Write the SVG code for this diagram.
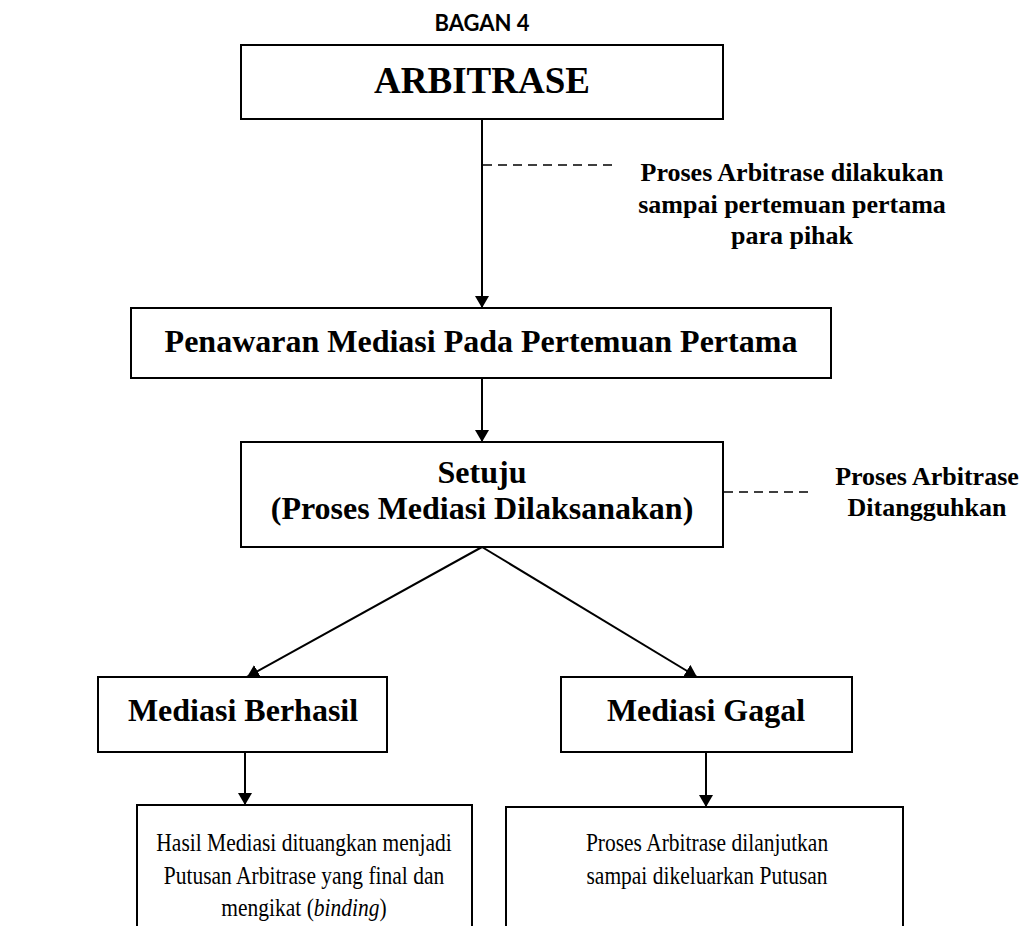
<svg xmlns="http://www.w3.org/2000/svg" width="1022" height="926" viewBox="0 0 1022 926">
<defs>
<marker id="ah" markerWidth="12" markerHeight="14" refX="12" refY="7" orient="auto" markerUnits="userSpaceOnUse">
<path d="M0,0 L12,7 L0,14 Z" fill="#000"/>
</marker>
<style>
.box{fill:#fff;stroke:#000;stroke-width:2}
.ln{stroke:#000;stroke-width:2;fill:none}
.dash{stroke:#000;stroke-width:1.5;stroke-dasharray:9 6;fill:none}
.t{font-family:"Liberation Serif","Times New Roman",serif;fill:#000;text-anchor:middle}
.b{font-weight:bold}
</style>
</defs>
<rect width="1022" height="926" fill="#fff"/>
<text x="482" y="31" text-anchor="middle" style="font-family:'Lato','Liberation Sans',sans-serif;font-weight:bold;font-size:22px">BAGAN 4</text>

<g id="connectors">
<line class="ln" x1="482" y1="119" x2="482" y2="308" marker-end="url(#ah)"/>
<line class="ln" x1="482" y1="378" x2="482" y2="442" marker-end="url(#ah)"/>
<line class="ln" x1="482" y1="547" x2="247" y2="677" marker-end="url(#ah)"/>
<line class="ln" x1="482" y1="547" x2="697" y2="677" marker-end="url(#ah)"/>
<line class="ln" x1="245" y1="752" x2="245" y2="805" marker-end="url(#ah)"/>
<line class="ln" x1="706" y1="752" x2="706" y2="807" marker-end="url(#ah)"/>
<line class="dash" x1="483" y1="165" x2="617" y2="165"/>
<line class="dash" x1="724" y1="492" x2="812" y2="492"/>
</g>

<g id="n-arbitrase">
<rect class="box" x="241" y="45" width="482" height="74"/>
<text class="t b" x="482" y="93" font-size="37">ARBITRASE</text>
</g>

<g id="n-note1">
<text class="t b" x="792" y="181" font-size="26">Proses Arbitrase dilakukan</text>
<text class="t b" x="792" y="213" font-size="26">sampai pertemuan pertama</text>
<text class="t b" x="792" y="244" font-size="26">para pihak</text>
</g>

<g id="n-penawaran">
<rect class="box" x="131" y="308" width="700" height="70"/>
<text class="t b" x="481" y="352" font-size="32">Penawaran Mediasi Pada Pertemuan Pertama</text>
</g>

<g id="n-setuju">
<rect class="box" x="241" y="442" width="482" height="105"/>
<text class="t b" x="482" y="483" font-size="32">Setuju</text>
<text class="t b" x="482" y="519" font-size="32">(Proses Mediasi Dilaksanakan)</text>
</g>

<g id="n-note2">
<text class="t b" x="927" y="485" font-size="26">Proses Arbitrase</text>
<text class="t b" x="927" y="516" font-size="26">Ditangguhkan</text>
</g>

<g id="n-berhasil">
<rect class="box" x="98" y="677" width="289" height="75"/>
<text class="t b" x="243" y="721" font-size="32">Mediasi Berhasil</text>
</g>

<g id="n-gagal">
<rect class="box" x="561" y="677" width="291" height="75"/>
<text class="t b" x="706" y="721" font-size="32">Mediasi Gagal</text>
</g>

<g id="n-hasil">
<path class="ln" d="M137,930 L137,805 L472,805 L472,930"/>
<g transform="translate(304,0) scale(0.86,1)">
<text class="t" x="0" y="851" font-size="25">Hasil Mediasi dituangkan menjadi</text>
<text class="t" x="0" y="884" font-size="25">Putusan Arbitrase yang final dan</text>
<text class="t" x="0" y="916" font-size="25">mengikat (<tspan font-style="italic">binding</tspan>)</text>
</g>
</g>

<g id="n-lanjut">
<path class="ln" d="M506,930 L506,807 L903,807 L903,930"/>
<g transform="translate(707,0) scale(0.86,1)">
<text class="t" x="0" y="851" font-size="25">Proses Arbitrase dilanjutkan</text>
<text class="t" x="0" y="884" font-size="25">sampai dikeluarkan Putusan</text>
</g>
</g>
</svg>
